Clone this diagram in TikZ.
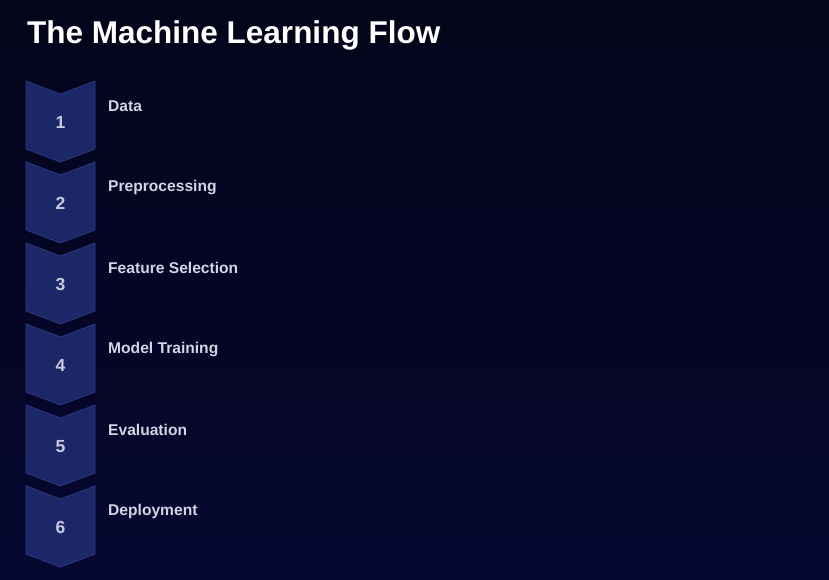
\documentclass[tikz,border=0pt]{standalone}
\usepackage{fontspec}
\setmainfont{Liberation Sans}
\definecolor{bgtop}{HTML}{04041A}
\definecolor{bgbot}{HTML}{05072F}
\definecolor{chevfill}{HTML}{1B2766}
\definecolor{chevline}{HTML}{2A3A82}
\definecolor{numcol}{HTML}{C5CAE0}
\definecolor{labcol}{HTML}{D2D5E4}
\tikzset{
  chev/.style={fill=chevfill, draw=chevline, line width=0.8pt, line join=miter},
  numtext/.style={text=numcol, font=\fontsize{17.5}{20}\selectfont\bfseries, anchor=center, inner sep=0pt},
  labtext/.style={text=labcol, font=\fontsize{15.6}{18}\selectfont\bfseries, anchor=west, inner sep=0pt},
  titletext/.style={text=white, font=\fontsize{31.5}{38}\selectfont\bfseries, anchor=west, inner sep=0pt}
}
\begin{document}
\begin{tikzpicture}[x=1pt,y=-1pt]
\useasboundingbox (0,0) rectangle (829,579);
\shade[top color=bgtop, bottom color=bgbot] (0,0) rectangle (829,579);
\node[titletext] (title) at (27,35) {The Machine Learning Flow};
\foreach \i/\lab in {0/Data,1/Preprocessing,2/Feature Selection,3/Model Training,4/Evaluation,5/Deployment}{
  \pgfmathsetmacro{\yt}{81+81*\i}
  \path[chev] (26,\yt) -- (60.5,\yt+13) -- (95,\yt) -- (95,\yt+68) -- (60.5,\yt+81) -- (26,\yt+68) -- cycle;
  \pgfmathtruncatemacro{\n}{\i+1}
  \node[numtext] (num\n) at (60.5,\yt+41.5) {\n};
  \node[labtext] (lab\n) at (108,\yt+25) {\lab};
}
\end{tikzpicture}
\end{document}
